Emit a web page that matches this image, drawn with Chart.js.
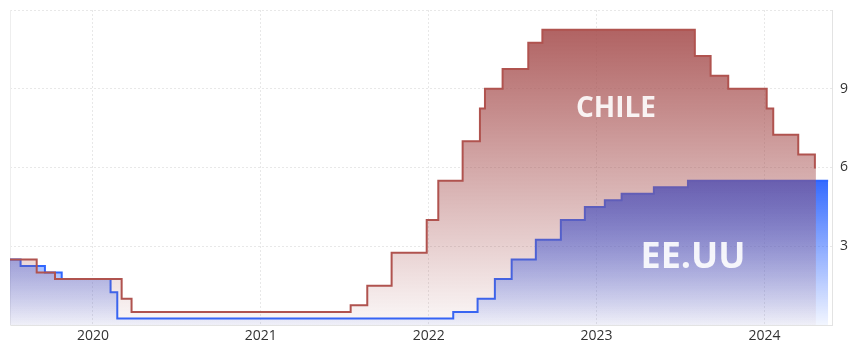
<!DOCTYPE html>
<html>
<head>
<meta charset="utf-8">
<script src="https://cdn.jsdelivr.net/npm/chart.js@4"></script>
<style>
body{margin:0;background:#fff;}
#wrap{width:853px;height:343px;}
</style>
</head>
<body>
<div id="wrap"><canvas id="rates"></canvas></div>
<script>
// tasa de politica monetaria, Chile vs EE.UU (fecha en años decimales)
const chileDates = [2019.506, 2019.665, 2019.774, 2020.171, 2020.230, 2021.535, 2021.634, 2021.779, 2021.988, 2022.057, 2022.202, 2022.305, 2022.335, 2022.440, 2022.593, 2022.677, 2023.585, 2023.679, 2023.784, 2024.013, 2024.052, 2024.201, 2024.300, 2024.306];
const chileRates = [2.5, 2.0, 1.75, 1.0, 0.5, 0.75, 1.5, 2.75, 4.0, 5.5, 7.0, 8.25, 9.0, 9.75, 10.75, 11.25, 10.25, 9.5, 9.0, 8.25, 7.25, 6.5, 6.0, 6.0];

const usDates = [2019.506, 2019.569, 2019.714, 2019.814, 2020.105, 2020.145, 2022.146, 2022.291, 2022.394, 2022.494, 2022.638, 2022.787, 2022.930, 2023.049, 2023.149, 2023.341, 2023.544, 2024.379];
const usRates = [2.5, 2.25, 2.0, 1.75, 1.25, 0.25, 0.5, 1.0, 1.75, 2.5, 3.25, 4.0, 4.5, 4.75, 5.0, 5.25, 5.5, 5.5];

const yearTicks = [2020, 2021, 2022, 2023, 2024];
const yearLabels = ['2020', '2021', '2022', '2023', '2024'];
const rateTicks = [3, 6, 9];

const areaNames = ['CHILE', 'EE.UU'];

function toPoints(dates, rates){
  return dates.map((d, i) => ({x: d, y: rates[i]}));
}

function redFill(context){
  const {ctx, chartArea} = context.chart;
  if(!chartArea) return null;
  const g = ctx.createLinearGradient(0, chartArea.top, 0, chartArea.bottom);
  g.addColorStop(0, 'rgba(168,82,82,0.96)');
  g.addColorStop(1, 'rgba(168,82,82,0.04)');
  return g;
}

function blueFill(context){
  const {ctx, chartArea} = context.chart;
  if(!chartArea) return null;
  const g = ctx.createLinearGradient(0, chartArea.top, 0, chartArea.bottom);
  g.addColorStop(0, 'rgba(41,98,255,1)');
  g.addColorStop(0.54, 'rgba(41,98,255,0.95)');
  g.addColorStop(1, 'rgba(41,98,255,0.06)');
  return g;
}

const areaLabels = {
  id: 'areaLabels',
  afterDatasetsDraw(chart){
    const ctx = chart.ctx;
    const x = chart.scales.x, y = chart.scales.y;
    const spots = [
      {x: 2023.115, y: 7.935, size: 28},
      {x: 2023.574, y: 2.16, size: 36}
    ];
    ctx.save();
    ctx.fillStyle = 'rgba(255,255,255,0.9)';
    ctx.textAlign = 'center';
    ctx.textBaseline = 'alphabetic';
    areaNames.forEach((name, i) => {
      ctx.font = 'bold ' + spots[i].size + 'px "Open Sans"';
      ctx.fillText(name, x.getPixelForValue(spots[i].x), y.getPixelForValue(spots[i].y));
    });
    ctx.restore();
  }
};

const ctx = document.getElementById('rates').getContext('2d');
new Chart(ctx, {
  type: 'line',
  data: {
    datasets: [{
      label: 'CHILE',
      data: toPoints(chileDates, chileRates),
      borderColor: '#b0534f',
      borderWidth: 2,
      backgroundColor: redFill,
      fill: 'start',
      stepped: true,
      pointRadius: 0
    }, {
      label: 'EE.UU',
      data: toPoints(usDates, usRates),
      borderColor: '#2f66ff',
      borderWidth: 2,
      backgroundColor: blueFill,
      fill: 'start',
      stepped: true,
      pointRadius: 0
    }]
  },
  options: {
    responsive: true,
    maintainAspectRatio: false,
    animation: false,
    layout: {padding: {left: 10, top: 10, right: 0, bottom: 0}},
    plugins: {
      legend: {display: false},
      tooltip: {enabled: false}
    },
    scales: {
      x: {
        type: 'linear',
        min: 2019.506,
        max: 2024.402,
        afterBuildTicks: s => { s.ticks = yearTicks.map(v => ({value: v})); },
        afterFit: s => { s.height = 18; s.paddingLeft = 0; s.paddingRight = 0; },
        grid: {color: '#e8e8e8', drawTicks: false},
        border: {color: '#e3e3e3', dash: [2, 2]},
        ticks: {
          padding: 3,
          color: '#333',
          font: {family: 'Open Sans', size: 14},
          callback: (v, i) => yearLabels[i]
        }
      },
      y: {
        position: 'right',
        min: 0,
        max: 12,
        afterBuildTicks: s => { s.ticks = [0].concat(rateTicks, [12]).map(v => ({value: v})); },
        afterFit: s => { s.width = 21; s.paddingTop = 0; s.paddingBottom = 0; },
        grid: {color: '#e8e8e8', drawTicks: false},
        border: {color: '#e3e3e3', dash: [2, 2]},
        ticks: {
          padding: 8,
          color: '#333',
          font: {family: 'Open Sans', size: 14},
          callback: v => rateTicks.includes(v) ? String(v) : ''
        }
      },
      yl: {
        position: 'left',
        display: true,
        afterFit: s => { s.width = 0; s.paddingTop = 0; s.paddingBottom = 0; },
        grid: {display: false},
        border: {color: '#eeeeee'},
        ticks: {display: false}
      }
    }
  },
  plugins: [areaLabels]
});
</script>
</body>
</html>
